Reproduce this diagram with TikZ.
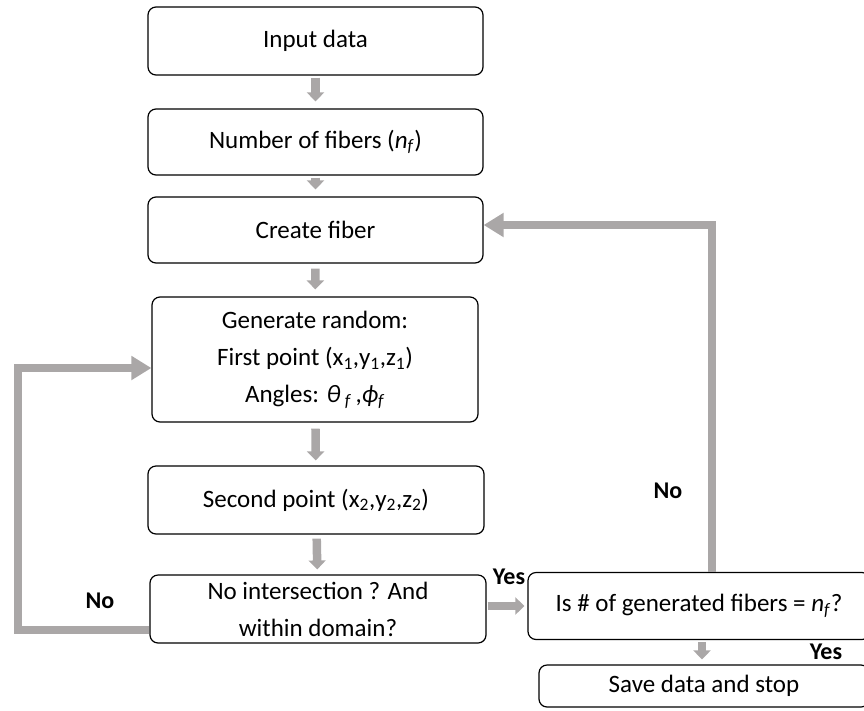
\documentclass[tikz,border=0pt]{standalone}
\usepackage{fontspec}
\setmainfont{Carlito}
\usetikzlibrary{arrows.meta}
\definecolor{arrowgray}{RGB}{170,167,167}
\newcommand{\nf}{\textit{n}\textsubscript{\textit{f}}}
\begin{document}
\begin{tikzpicture}[x=1pt,y=-1pt,
        box/.style={draw=black,line width=1.2pt,rounded corners=8pt,align=center,
            font=\fontsize{25}{37}\selectfont,inner sep=0pt},
        smallarrow/.style={draw=arrowgray,line width=8.5pt,
            -{Triangle[width=17pt,length=9pt]}},
        bigarrow/.style={draw=arrowgray,line width=8.5pt,
            -{Triangle[width=23pt,length=20pt]}},
        lbl/.style={font=\fontsize{24}{28}\selectfont\bfseries}]
        \useasboundingbox (0,0) rectangle (864,710);
        % Boxes
        \node[box,minimum width=335pt,minimum height=68pt] (inp) at (315.5,41) {Input data};
        \node[box,minimum width=335pt,minimum height=66pt] (nfib) at (315.5,142) {Number of fibers (\nf)};
        \node[box,minimum width=335pt,minimum height=66pt] (create) at (315.5,230) {Create fiber};
        \node[box,minimum width=326pt,minimum height=125pt] (gen) at (315,359.5)
            {Generate random:\\First point (x\textsubscript{1},y\textsubscript{1},z\textsubscript{1})\\Angles: \textit{θ}\,\textsubscript{\textit{f}}\,,\textit{ϕ}\textsubscript{\textit{f}}};
        \node[box,minimum width=336pt,minimum height=68pt] (second) at (316,500)
            {Second point (x\textsubscript{2},y\textsubscript{2},z\textsubscript{2})};
        \node[box,minimum width=336pt,minimum height=68pt] (noint) at (318,609)
            {No intersection ? And\\within domain?};
        \node[box,minimum width=342pt,minimum height=67pt] (isn) at (699,606)
            {Is \# of generated fibers = \nf?};
        \node[box,minimum width=330pt,minimum height=42pt] (save) at (704,686)
            {Save data and stop};
        % Down arrows
        \draw[smallarrow,shorten <=2pt,shorten >=7pt] (inp) -- (nfib);
        \draw[smallarrow,shorten <=2pt,shorten >=7pt] (nfib) -- (create);
        \draw[smallarrow,shorten <=5pt,shorten >=7pt] (create) -- (gen);
        \draw[smallarrow,shorten <=6pt,shorten >=5pt] (gen) -- (second);
        \draw[smallarrow,shorten <=4pt,shorten >=5pt] (second) -- (noint);
        % Loop back to generate
        \coordinate (lb) at (18,630);
        \coordinate (lt) at (18,368);
        \draw[bigarrow] (noint.west |- lb) -- (lb) -- (lt) -- (gen.west |- lt);
        % Yes arrow
        \draw[smallarrow,shorten <=1pt,shorten >=3pt] (noint.east |- isn.west) -- (isn.west);
        % Loop back to create fiber
        \coordinate (rt) at (712,225);
        \draw[bigarrow] (isn.north -| rt) -- (rt) -- (create.east |- rt);
        % Down to save
        \coordinate (sd) at (702,0);
        \draw[smallarrow,shorten <=2pt,shorten >=5pt] (isn.south -| sd) -- (save.north -| sd);
        % Labels
        \node[lbl] (no1) at (100,601) {No};
        \node[lbl] (yes1) at (509,577) {Yes};
        \node[lbl] (no2) at (668,491) {No};
        \node[lbl] (yes2) at (826,652) {Yes};
    \end{tikzpicture}
\end{document}
